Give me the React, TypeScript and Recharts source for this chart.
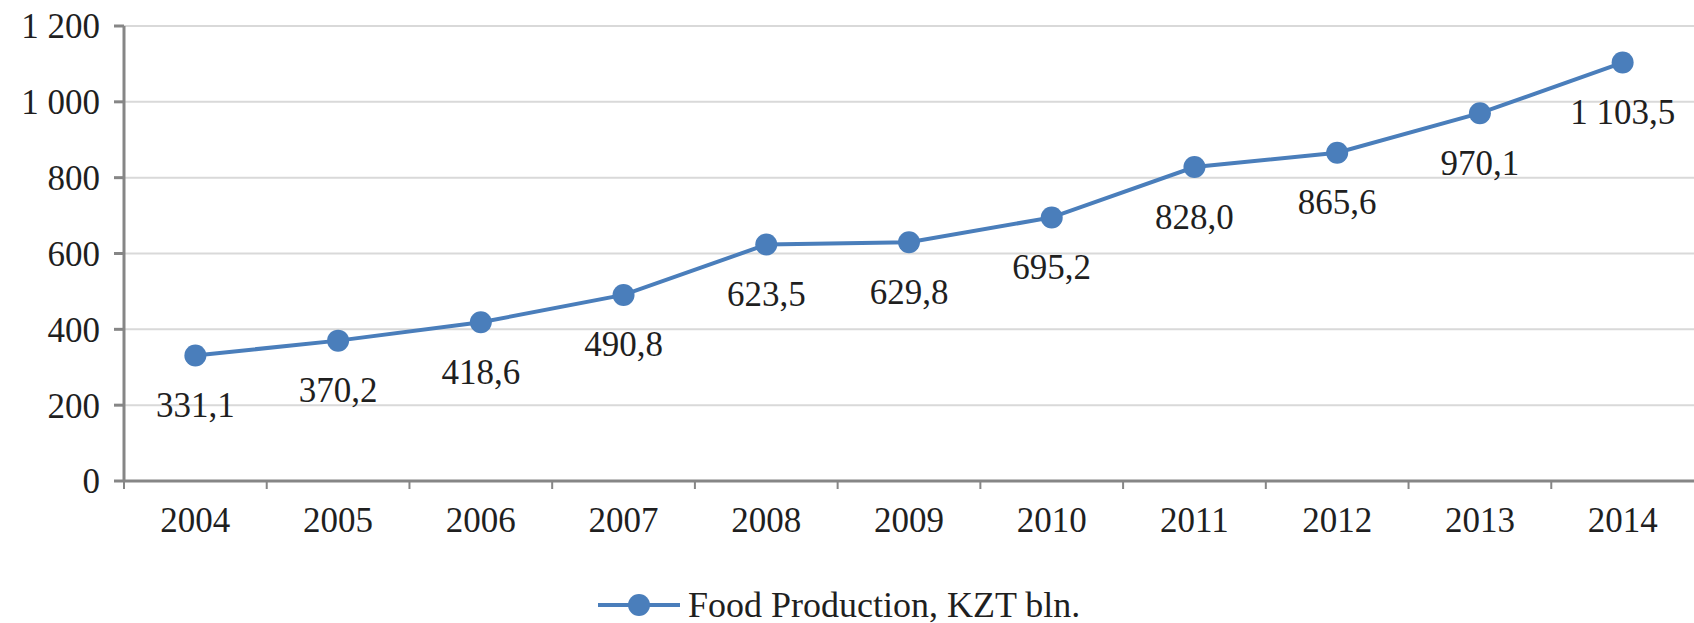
import { LineChart, Line, XAxis, YAxis, CartesianGrid, LabelList } from "recharts";

const years = ["2004", "2005", "2006", "2007", "2008", "2009", "2010", "2011", "2012", "2013", "2014"];
const foodProduction = [331.1, 370.2, 418.6, 490.8, 623.5, 629.8, 695.2, 828.0, 865.6, 970.1, 1103.5];
const yTicks = [0, 200, 400, 600, 800, 1000, 1200];

const data = years.map((year, i) => ({ year, value: foodProduction[i] }));

const WIDTH = 1694;
const HEIGHT = 623;
const Y_AXIS_WIDTH = 124;
const BAND = (WIDTH - Y_AXIS_WIDTH) / years.length;

const FONT = "'Liberation Serif', 'Times New Roman', serif";
const TEXT = "#1f1f1f";
const BLUE = "#4A7EBB";
const AXIS = "#868686";

// 1 200 / 1 103,5 style numbers
function formatNumber(v: number, decimals: number): string {
  const [int, frac] = v.toFixed(decimals).split(".");
  const grouped = int.replace(/\B(?=(\d{3})+(?!\d))/g, " ");
  return frac ? `${grouped},${frac}` : grouped;
}

const XTick = ({ x, y, payload }: any) => {
  const left = x - BAND / 2;
  return (
    <g>
      <line x1={left} y1={y} x2={left} y2={y + 8} stroke={AXIS} strokeWidth={2} />
      <text
        x={x}
        y={y + 39}
        textAnchor="middle"
        dominantBaseline="central"
        fontFamily={FONT}
        fontSize={35}
        fill={TEXT}
      >
        {payload.value}
      </text>
    </g>
  );
};

const ValueLabel = ({ x, y, value }: any) => (
  <text
    x={x}
    y={y + 50}
    textAnchor="middle"
    dominantBaseline="central"
    fontFamily={FONT}
    fontSize={35}
    fill={TEXT}
  >
    {formatNumber(value, 1)}
  </text>
);

export default function App() {
  return (
    <div style={{ position: "absolute", left: 0, top: 0, width: WIDTH, height: HEIGHT, background: "#fff" }}>
      <LineChart
        width={WIDTH}
        height={HEIGHT}
        data={data}
        margin={{ top: 26, right: 0, left: 0, bottom: 0 }}
      >
        <CartesianGrid vertical={false} stroke="#d9d9d9" strokeWidth={2} />
        <XAxis
          dataKey="year"
          height={142}
          stroke={AXIS}
          strokeWidth={3}
          tickLine={false}
          tickSize={0}
          tickMargin={0}
          tick={<XTick />}
          interval={0}
          padding={{ left: BAND / 2, right: BAND / 2 }}
        />
        <YAxis
          width={Y_AXIS_WIDTH}
          domain={[0, 1200]}
          ticks={yTicks}
          stroke={AXIS}
          strokeWidth={3}
          tickSize={10}
          tickMargin={14}
          tickFormatter={(v: number) => formatNumber(v, 0)}
          tick={{ fontFamily: FONT, fontSize: 35, fill: TEXT }}
        />
        <Line
          type="linear"
          dataKey="value"
          stroke={BLUE}
          strokeWidth={4}
          dot={{ r: 11, fill: BLUE, stroke: "none" }}
          isAnimationActive={false}
        >
          <LabelList dataKey="value" content={<ValueLabel />} />
        </Line>
      </LineChart>
      <div
        style={{
          position: "absolute",
          left: 598,
          top: 585,
          height: 40,
          display: "flex",
          alignItems: "center",
          gap: 8,
        }}
      >
        <svg width={82} height={24}>
          <line x1={0} y1={12} x2={82} y2={12} stroke={BLUE} strokeWidth={4} />
          <circle cx={41} cy={12} r={11} fill={BLUE} />
        </svg>
        <span style={{ fontFamily: FONT, fontSize: 36, color: TEXT, lineHeight: "40px" }}>
          Food Production, KZT bln.
        </span>
      </div>
    </div>
  );
}
